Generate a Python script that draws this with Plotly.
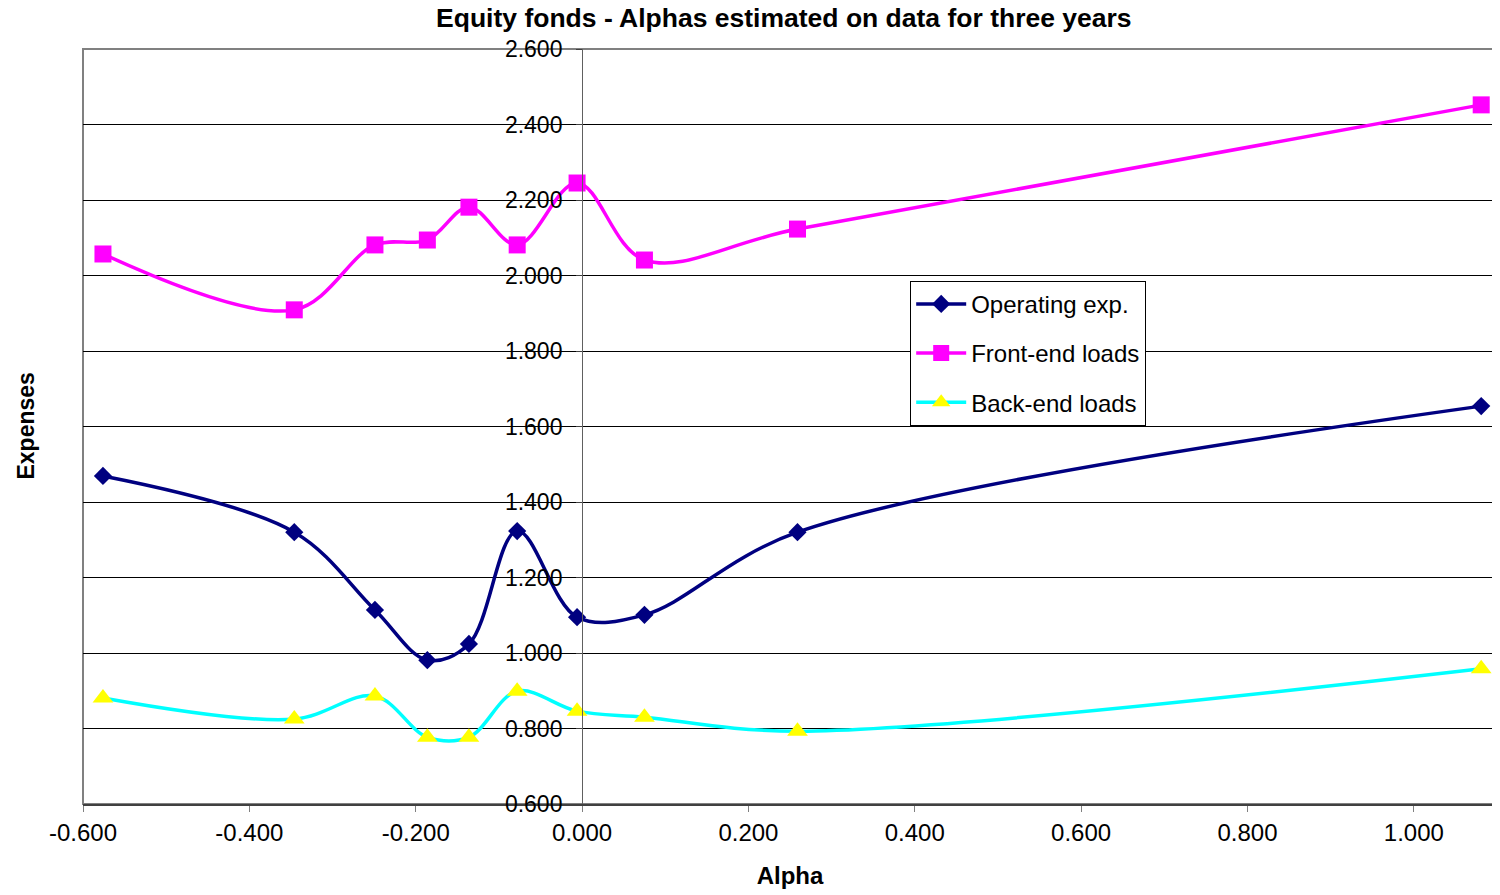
import plotly.graph_objects as go

alpha = [-0.576, -0.346, -0.249, -0.186, -0.136, -0.078, -0.006, 0.075, 0.259, 1.081]
operating_exp = [1.469, 1.320, 1.114, 0.981, 1.024, 1.323, 1.095, 1.101, 1.320, 1.654]
front_end = [2.057, 1.909, 2.081, 2.094, 2.181, 2.081, 2.245, 2.041, 2.123, 2.452]
back_end = [0.881, 0.825, 0.886, 0.777, 0.777, 0.899, 0.846, 0.830, 0.793, 0.958]

x_ticks = [-0.6, -0.4, -0.2, 0.0, 0.2, 0.4, 0.6, 0.8, 1.0]
y_ticks = [0.6, 0.8, 1.0, 1.2, 1.4, 1.6, 1.8, 2.0, 2.2, 2.4, 2.6]

FONT = "Liberation Sans, Arial, sans-serif"

fig = go.Figure()
fig.add_trace(go.Scatter(x=alpha, y=operating_exp, name="Operating exp.", mode="lines+markers",
                         line=dict(color="#000080", width=3.5, shape="spline", smoothing=1),
                         marker=dict(symbol="diamond", size=14, color="#000080"),
                         legendgroup="a"))
fig.add_trace(go.Scatter(x=alpha, y=front_end, name="Front-end loads", mode="lines+markers",
                         line=dict(color="#FF00FF", width=3.5, shape="spline", smoothing=1),
                         marker=dict(symbol="square", size=17, color="#FF00FF"),
                         legendgroup="b"))
fig.add_trace(go.Scatter(x=alpha, y=back_end, name="Back-end loads", mode="lines+markers",
                         line=dict(color="#00FFFF", width=3.5, shape="spline", smoothing=1),
                         marker=dict(symbol="triangle-up", size=18, color="#FFFF00"),
                         legendgroup="c"))

fig.update_layout(
    width=1492, height=887,
    margin=dict(l=75, r=3, t=41, b=91),
    paper_bgcolor="white", plot_bgcolor="white",
    font=dict(family=FONT, size=24, color="black"),
    title=dict(text="<b>Equity fonds - Alphas estimated on data for three years</b>",
               x=0.520, xanchor="center", y=0.9887, yanchor="middle",
               font=dict(size=26.5, family=FONT), automargin=False),
    xaxis=dict(range=[-0.6, 1.1], tickvals=x_ticks,
               ticktext=[f"{v:.3f}" for v in x_ticks],
               showgrid=False, zeroline=False, showline=True, linecolor="#404040", linewidth=2,
               ticks="outside", ticklen=6, tickcolor="#808080", automargin=False,
               title=dict(text="<b>Alpha</b>", font=dict(size=24), standoff=22)),
    yaxis=dict(range=[0.6, 2.6], tickvals=y_ticks,
               ticktext=[f"{v:.3f}" for v in y_ticks],
               anchor="free", position=0.6 / 1.7, automargin=False,
               tickfont=dict(size=23),
               showgrid=True, gridcolor="black", gridwidth=1,
               zeroline=False, showline=True, linecolor="#606060", linewidth=1,
               ticks="outside", ticklen=6, tickcolor="#404040", ticklabelstandoff=9),
    legend=dict(x=0.585, y=0.693, xanchor="left", yanchor="top",
                bgcolor="white", bordercolor="black", borderwidth=1,
                font=dict(size=24), traceorder="grouped", tracegroupgap=15,
                itemwidth=50),
    showlegend=True,
)
fig.add_annotation(text="<b>Expenses</b>", xref="paper", yref="paper", x=-0.041, y=0.5,
                   textangle=-90, showarrow=False, font=dict(size=23, family=FONT),
                   xanchor="center", yanchor="middle")
fig.add_shape(type="rect", xref="paper", yref="paper", x0=0, y0=0, x1=1, y1=1,
              line=dict(color="#808080", width=2), layer="below")

fig.write_html("out.html")
